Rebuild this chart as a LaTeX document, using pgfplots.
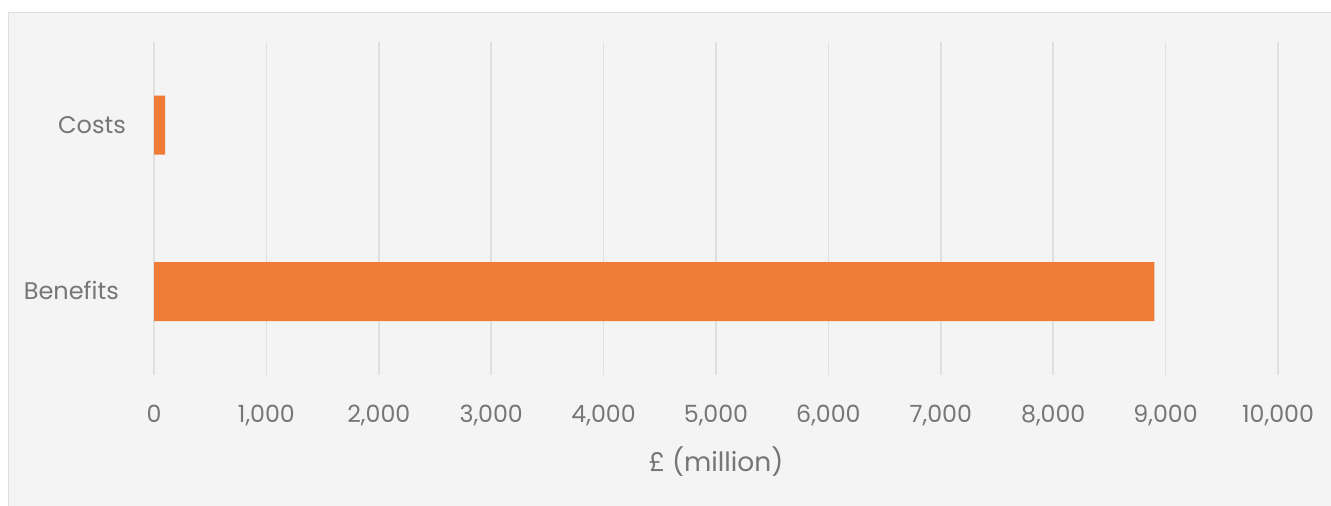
\documentclass[border=0pt]{standalone}
\usepackage{fontspec}
\setmainfont{Poppins}
\usepackage{pgfplots}
\pgfplotsset{compat=1.18}
\definecolor{bg}{HTML}{F4F4F4}
\definecolor{frame}{HTML}{DEDEDE}
\definecolor{gridc}{HTML}{E0E0E0}
\definecolor{barc}{HTML}{EE7C37}
\definecolor{txt}{HTML}{767676}
\begin{document}
\begin{tikzpicture}[x=1pt,y=1pt]
\useasboundingbox (0,0) rectangle (1331,506);
\fill[white] (0,0) rectangle (1331,506);
\filldraw[fill=bg, draw=frame, line width=1.5pt] (8.5,-5) rectangle (1340,493.5);
\begin{axis}[
  at={(154pt,131pt)}, anchor=south west,
  scale only axis, width=1124pt, height=333pt,
  xbar, bar width=59pt,
  xmin=0, xmax=10000,
  ymin=-0.5, ymax=1.5,
  xtick={0,1000,...,10000},
  ytick={0,1},
  yticklabels={Benefits\kern7pt, Costs},
  axis line style={draw=none},
  major tick length=0pt,
  xmajorgrids, major grid style={gridc, line width=1.5pt},
  scaled x ticks=false,
  /pgf/number format/assume math mode=true,
  /pgf/number format/1000 sep={,},
  xticklabel style={font=\fontsize{23.7}{26}\selectfont, text=txt, anchor=base, yshift=-47.7pt},
  yticklabel style={font=\fontsize{24}{27}\selectfont, text=txt, anchor=base east, inner sep=0pt, xshift=-28pt, yshift=-8.2pt},
  xlabel={£ (million)},
  xlabel style={font=\fontsize{26.5}{30}\selectfont, text=txt, at={(axis description cs:0.5,0)}, anchor=base, yshift=-96pt},
]
\addplot[fill=barc, draw=none] coordinates {(8900,0) (100,1)};
\end{axis}
\end{tikzpicture}
\end{document}
